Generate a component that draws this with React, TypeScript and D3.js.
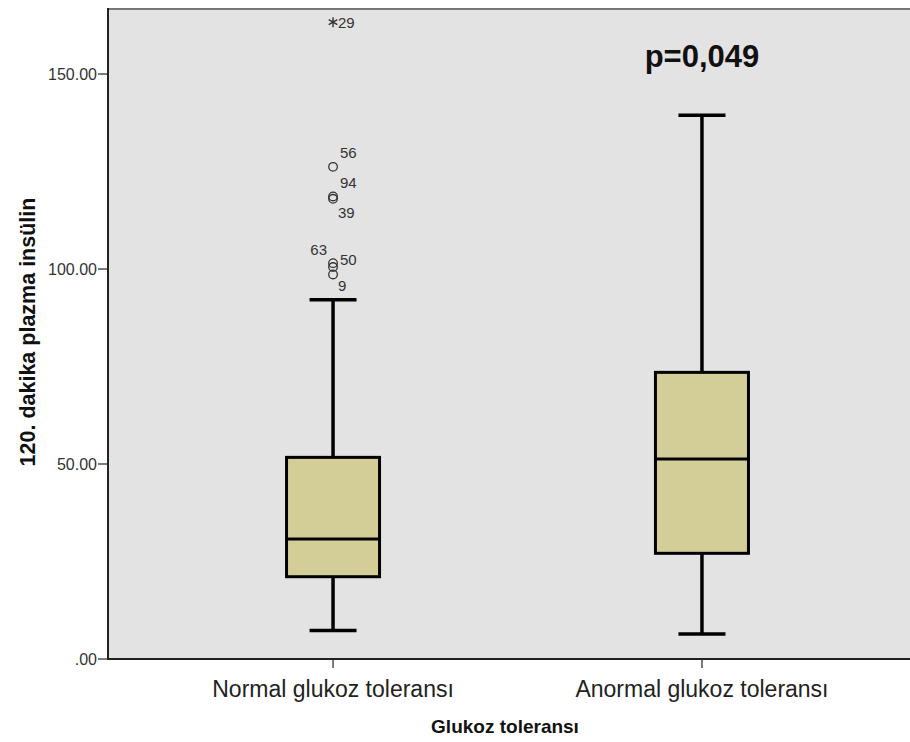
import React from "react";
import * as d3 from "d3";

const categories = ["Normal glukoz toleransı", "Anormal glukoz toleransı"];
const q1 = [21.1, 27.1];
const medians = [30.8, 51.3];
const q3 = [51.7, 73.5];
const whiskerLow = [7.3, 6.4];
const whiskerHigh = [92.1, 139.4];

// outliers (group 0)
const outlierIds = ["29", "56", "94", "39", "63", "50", "9"];
const outlierValues = [163.3, 126.2, 118.6, 118.0, 101.5, 100.5, 98.6];
const outlierExtreme = [true, false, false, false, false, false, false];
// label offsets (px) relative to marker
const labelDx = [5, 7, 7, 5, -6, 7, 5];
const labelDy = [6, -9, -8, 19, -8, -2, 17];
const labelAnchor = ["start", "start", "start", "start", "end", "start", "start"];

const yTicks = [0, 50, 100, 150];
const yTickLabels = [".00", "50.00", "100.00", "150.00"];

const W = 910;
const H = 742;
const plotLeft = 108;
const plotRight = 927;
const plotTop = 9;
const plotBottom = 659;

export default function App() {
  const y = d3.scaleLinear().domain([0, 166.67]).range([plotBottom, plotTop]);
  const x = d3.scalePoint<string>().domain(categories).range([plotLeft, plotRight]).padding(0.61);
  const boxW = 93;
  const capW = 47;
  const font = "Arial, 'Liberation Sans', sans-serif";
  const star = d3.symbol().type(d3.symbolAsterisk).size(70)()!;

  return (
    <svg
      width={W}
      height={H}
      style={{ position: "absolute", left: 0, top: 0, display: "block" }}
    >
      <rect x={0} y={0} width={W} height={H} fill="#ffffff" />
      <rect x={plotLeft} y={plotTop} width={plotRight - plotLeft} height={plotBottom - plotTop} fill="#e3e3e3" />
      <line x1={plotLeft} x2={plotRight} y1={plotTop} y2={plotTop} stroke="#777" strokeWidth={2} />
      <line x1={plotLeft} x2={plotLeft} y1={plotTop - 1} y2={plotBottom} stroke="#222" strokeWidth={2} />
      <line x1={plotLeft - 1} x2={plotRight} y1={plotBottom} y2={plotBottom} stroke="#222" strokeWidth={2} />

      {yTicks.map((t, i) => (
        <g key={t}>
          <line x1={plotLeft - 10} x2={plotLeft} y1={y(t)} y2={y(t)} stroke="#222" strokeWidth={1.2} />
          <text
            x={plotLeft - 11}
            y={y(t)}
            dy="0.35em"
            textAnchor="end"
            fontFamily={font}
            fontSize={16}
            fill="#333"
          >
            {yTickLabels[i]}
          </text>
        </g>
      ))}

      {categories.map((c, i) => {
        const cx = x(c)!;
        return (
          <g key={c}>
            <line x1={cx} x2={cx} y1={plotBottom} y2={plotBottom + 9} stroke="#222" strokeWidth={1.2} />
            <text x={cx} y={697} textAnchor="middle" fontFamily={font} fontSize={23} fill="#222">
              {c}
            </text>
            <line x1={cx} x2={cx} y1={y(q3[i])} y2={y(whiskerHigh[i])} stroke="#000" strokeWidth={3.5} />
            <line x1={cx} x2={cx} y1={y(q1[i])} y2={y(whiskerLow[i])} stroke="#000" strokeWidth={3.5} />
            <line x1={cx - capW / 2} x2={cx + capW / 2} y1={y(whiskerHigh[i])} y2={y(whiskerHigh[i])} stroke="#000" strokeWidth={3.5} />
            <line x1={cx - capW / 2} x2={cx + capW / 2} y1={y(whiskerLow[i])} y2={y(whiskerLow[i])} stroke="#000" strokeWidth={3.5} />
            <rect
              x={cx - boxW / 2}
              y={y(q3[i])}
              width={boxW}
              height={y(q1[i]) - y(q3[i])}
              fill="#d3ce98"
              stroke="#000"
              strokeWidth={3}
            />
            <line x1={cx - boxW / 2} x2={cx + boxW / 2} y1={y(medians[i])} y2={y(medians[i])} stroke="#000" strokeWidth={3} />
          </g>
        );
      })}

      {outlierValues.map((v, i) => {
        const cx = x(categories[0])!;
        const cy = y(v);
        return (
          <g key={outlierIds[i]}>
            {outlierExtreme[i] ? (
              <path d={star} transform={`translate(${cx},${cy})`} fill="none" stroke="#333" strokeWidth={1.4} />
            ) : (
              <circle cx={cx} cy={cy} r={4.3} fill="none" stroke="#333" strokeWidth={1.3} />
            )}
            <text
              x={cx + labelDx[i]}
              y={cy + labelDy[i]}
              textAnchor={labelAnchor[i] as any}
              fontFamily={font}
              fontSize={15}
              fill="#333"
            >
              {outlierIds[i]}
            </text>
          </g>
        );
      })}

      <text x={702} y={67} textAnchor="middle" fontFamily={font} fontSize={31} fontWeight="bold" fill="#111">
        p=0,049
      </text>

      <text
        transform={`translate(35, ${(plotTop + plotBottom) / 2 - 2}) rotate(-90)`}
        textAnchor="middle"
        fontFamily={font}
        fontSize={21.5}
        fontWeight="bold"
        fill="#111"
      >
        120. dakika plazma insülin
      </text>
      <text x={505} y={733} textAnchor="middle" fontFamily={font} fontSize={19} fontWeight="bold" fill="#111">
        Glukoz toleransı
      </text>
    </svg>
  );
}
